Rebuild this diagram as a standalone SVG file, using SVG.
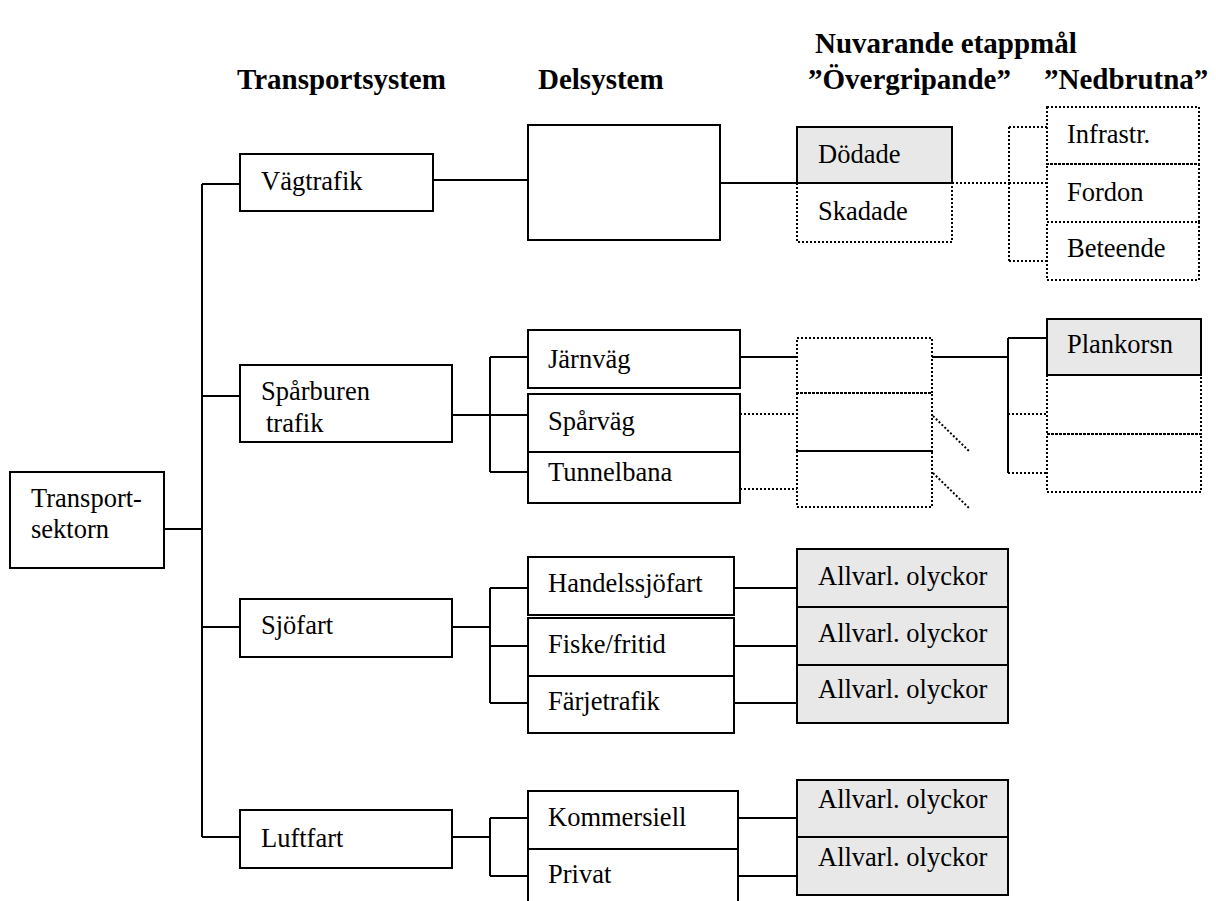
<svg xmlns="http://www.w3.org/2000/svg" width="1216" height="901" viewBox="0 0 1216 901">
<style>
  .box{fill:#ffffff;stroke:#000;stroke-width:2}
  .gray{fill:#e8e8e8;stroke:#000;stroke-width:2}
  .dot{fill:none;stroke:#000;stroke-width:2;stroke-dasharray:2 2}
  .ln{fill:none;stroke:#000;stroke-width:2}
  .t{font-family:"Liberation Serif","Times New Roman",serif;font-size:26.5px;fill:#000}
  .h{font-family:"Liberation Serif","Times New Roman",serif;font-size:29px;font-weight:bold;fill:#000}
</style>
<rect width="1216" height="901" fill="#ffffff"/>

<g id="headers">
  <text class="h" x="815" y="53">Nuvarande etappmål</text>
  <text class="h" x="237" y="89">Transportsystem</text>
  <text class="h" x="538" y="89">Delsystem</text>
  <text class="h" x="808" y="89">”Övergripande”</text>
  <text class="h" x="1044" y="89">”Nedbrutna”</text>
</g>

<g id="connectors">
  <path class="ln" d="M164 529H202 M202 184V837 M202 184H240 M202 396H240 M202 627H240 M202 837H240"/>
  <path class="ln" d="M433 180H528 M720 183H797"/>
  <path class="ln" d="M452 415H490 M490 357V472 M490 357H528 M490 415H528 M490 472H528"/>
  <path class="ln" d="M740 357H797 M932 357H1008 M1008 338V473 M1008 338H1047"/>
  <path class="ln" d="M452 627H490 M490 588V703 M490 588H528 M490 646H528 M490 703H528"/>
  <path class="ln" d="M734 588H797 M734 646H797 M734 703H797"/>
  <path class="ln" d="M452 837H490 M490 818V876 M490 818H528 M490 876H528"/>
  <path class="ln" d="M738 818H797 M738 876H797"/>
  <path class="dot" d="M952 183H1009 M1009 127V261 M1009 127H1047 M1009 183H1047 M1009 261H1047"/>
  <path class="dot" d="M740 414H797 M740 489H797 M1008 414H1047 M1008 473H1047"/>
  <path class="dot" d="M933 416L970 452 M933 473L970 509"/>
</g>

<g id="transportsektorn">
  <rect class="box" x="10" y="472" width="154" height="96"/>
  <text class="t" x="31" y="507">Transport-</text>
  <text class="t" x="31" y="538">sektorn</text>
</g>

<g id="vagtrafik">
  <rect class="box" x="240" y="154" width="193" height="57"/>
  <text class="t" x="261" y="190">Vägtrafik</text>
</g>
<g id="delsystem-vag">
  <rect class="box" x="528" y="125" width="192" height="115"/>
</g>
<g id="dodade">
  <rect class="gray" x="797" y="127" width="155" height="56"/>
  <text class="t" x="818" y="163">Dödade</text>
</g>
<g id="skadade">
  <path class="dot" d="M797 183V242H952V183"/>
  <text class="t" x="818" y="220">Skadade</text>
</g>
<g id="infrastr">
  <rect class="dot" x="1047" y="107" width="152" height="57"/>
  <text class="t" x="1067" y="143">Infrastr.</text>
</g>
<g id="fordon">
  <rect class="dot" x="1047" y="164" width="152" height="58"/>
  <text class="t" x="1067" y="201">Fordon</text>
</g>
<g id="beteende">
  <rect class="dot" x="1047" y="222" width="152" height="58"/>
  <text class="t" x="1067" y="257">Beteende</text>
</g>

<g id="sparburen">
  <rect class="box" x="240" y="365" width="212" height="77"/>
  <text class="t" x="261" y="400">Spårburen</text>
  <text class="t" x="266" y="432">trafik</text>
</g>
<g id="jarnvag">
  <rect class="box" x="528" y="330" width="212" height="58"/>
  <text class="t" x="548" y="368">Järnväg</text>
</g>
<g id="sparvag">
  <rect class="box" x="528" y="394" width="212" height="58"/>
  <text class="t" x="548" y="430">Spårväg</text>
</g>
<g id="tunnelbana">
  <rect class="box" x="528" y="452" width="212" height="51"/>
  <text class="t" x="548" y="481">Tunnelbana</text>
</g>
<g id="overgr-spar">
  <rect class="dot" x="797" y="338" width="135" height="55"/>
  <rect class="dot" x="797" y="393" width="135" height="58"/>
  <rect class="dot" x="797" y="451" width="135" height="56"/>
</g>
<g id="plankorsn">
  <rect class="gray" x="1047" y="319" width="154" height="56"/>
  <text class="t" x="1067" y="353">Plankorsn</text>
</g>
<g id="nedbr-spar">
  <rect class="dot" x="1047" y="375" width="154" height="59"/>
  <rect class="dot" x="1047" y="434" width="154" height="58"/>
</g>

<g id="sjofart">
  <rect class="box" x="240" y="599" width="212" height="58"/>
  <text class="t" x="261" y="634">Sjöfart</text>
</g>
<g id="handelssjofart">
  <rect class="box" x="528" y="557" width="206" height="58"/>
  <text class="t" x="548" y="592">Handelssjöfart</text>
</g>
<g id="fiske">
  <rect class="box" x="528" y="618" width="206" height="58"/>
  <text class="t" x="548" y="653">Fiske/fritid</text>
</g>
<g id="farjetrafik">
  <rect class="box" x="528" y="676" width="206" height="57"/>
  <text class="t" x="548" y="710">Färjetrafik</text>
</g>
<g id="allvarl-sjo">
  <rect class="gray" x="797" y="549" width="211" height="58"/>
  <text class="t" x="818" y="585">Allvarl. olyckor</text>
  <rect class="gray" x="797" y="607" width="211" height="58"/>
  <text class="t" x="818" y="642">Allvarl. olyckor</text>
  <rect class="gray" x="797" y="665" width="211" height="58"/>
  <text class="t" x="818" y="698">Allvarl. olyckor</text>
</g>

<g id="luftfart">
  <rect class="box" x="240" y="810" width="212" height="58"/>
  <text class="t" x="261" y="847">Luftfart</text>
</g>
<g id="kommersiell">
  <rect class="box" x="528" y="791" width="210" height="58"/>
  <text class="t" x="548" y="826">Kommersiell</text>
</g>
<g id="privat">
  <rect class="box" x="528" y="849" width="210" height="70"/>
  <text class="t" x="548" y="883">Privat</text>
</g>
<g id="allvarl-luft">
  <rect class="gray" x="797" y="780" width="211" height="57"/>
  <text class="t" x="818" y="808">Allvarl. olyckor</text>
  <rect class="gray" x="797" y="837" width="211" height="58"/>
  <text class="t" x="818" y="866">Allvarl. olyckor</text>
</g>
</svg>
